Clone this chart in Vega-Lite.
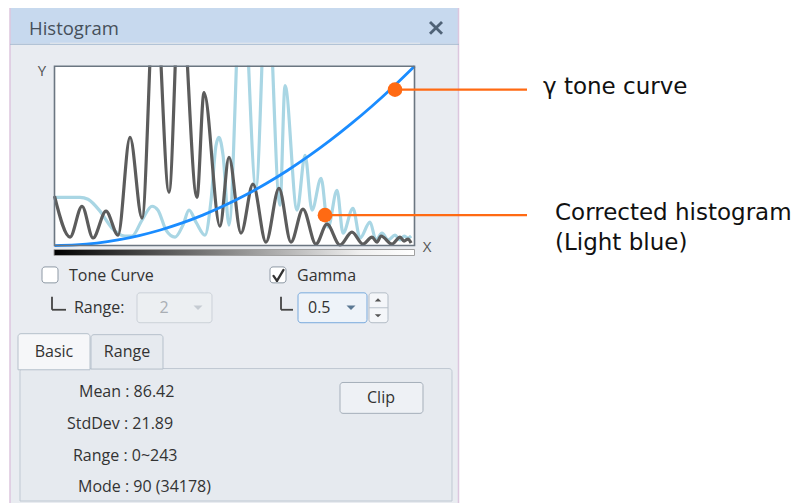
{
  "$schema": "https://vega.github.io/schema/vega-lite/v6.json",
  "width": 800,
  "height": 504,
  "autosize": {"type": "fit", "contains": "padding"},
  "padding": 0,
  "background": "#ffffff",
  "config": {"view": {"stroke": null}},
  "resolve": {"scale": {"fill": "independent", "stroke": "independent", "color": "independent", "shape": "independent"}},
  "layer": [
    {
      "data": {"values": [
        {"x": -31.52, "x2": 286.52, "y": 132.5, "y2": -143.61, "kind": "body"},
        {"x": 0, "x2": 255, "y": 100, "y2": 0, "kind": "plot"}
      ]},
      "mark": {"type": "rect", "strokeWidth": 0},
      "encoding": {
        "x": {"field": "x", "type": "quantitative", "scale": {"domain": [-38.6042, 528.0625], "nice": false, "zero": false}, "axis": null},
        "x2": {"field": "x2"},
        "y": {"field": "y", "type": "quantitative", "scale": {"domain": [-143.6111, 136.3889], "nice": false, "zero": false}, "axis": null},
        "y2": {"field": "y2"},
        "fill": {"field": "kind", "type": "nominal", "scale": {"domain": ["body", "plot"], "range": ["#e9ecf1", "#ffffff"]}, "legend": null}
      }
    },
    {
      "data": {"values": [
        {"intensity": 0, "freq": 26.9}, {"intensity": 18.1, "freq": 26.9}, {"intensity": 23.7, "freq": 25.8}, {"intensity": 32.2, "freq": 19.2},
        {"intensity": 40.7, "freq": 9.7}, {"intensity": 49.9, "freq": 5.3}, {"intensity": 54.9, "freq": 5.3}, {"intensity": 62.0, "freq": 14.2},
        {"intensity": 69.1, "freq": 21.9}, {"intensity": 73.3, "freq": 19.7}, {"intensity": 79.0, "freq": 8.6}, {"intensity": 85.4, "freq": 4.7},
        {"intensity": 91.0, "freq": 11.4}, {"intensity": 95.3, "freq": 19.7}, {"intensity": 100.2, "freq": 13.1}, {"intensity": 106.6, "freq": 5.8},
        {"intensity": 110.9, "freq": 25.3}, {"intensity": 114.4, "freq": 55.8}, {"intensity": 116.5, "freq": 60.3}, {"intensity": 119.4, "freq": 50.3},
        {"intensity": 123.6, "freq": 11.4}, {"intensity": 132.8, "freq": 158.6}, {"intensity": 142.7, "freq": 32.5}, {"intensity": 150.5, "freq": 153.1},
        {"intensity": 159.7, "freq": 22.5}, {"intensity": 163.3, "freq": 89.2}, {"intensity": 171.8, "freq": 19.7}, {"intensity": 177.5, "freq": 50.3},
        {"intensity": 182.4, "freq": 19.7}, {"intensity": 188.8, "freq": 37.5}, {"intensity": 193.8, "freq": 10.3}, {"intensity": 200.1, "freq": 30.8},
        {"intensity": 204.4, "freq": 6.9}, {"intensity": 211.4, "freq": 20.8}, {"intensity": 216.4, "freq": 4.2}, {"intensity": 223.5, "freq": 13.1},
        {"intensity": 227.7, "freq": 3.1}, {"intensity": 232.0, "freq": 6.9}, {"intensity": 236.3, "freq": 3.1}, {"intensity": 241.2, "freq": 5.8},
        {"intensity": 244.8, "freq": 3.1}, {"intensity": 247.6, "freq": 5.3}, {"intensity": 250.4, "freq": 4.2}, {"intensity": 252.6, "freq": 5.3}
      ]},
      "mark": {"type": "line", "color": "#a9d6e4", "strokeWidth": 3.2, "interpolate": "monotone", "clip": true},
      "encoding": {
        "x": {"field": "intensity", "type": "quantitative", "scale": {"domain": [-38.6042, 528.0625], "nice": false, "zero": false}, "axis": null},
        "y": {"field": "freq", "type": "quantitative", "scale": {"domain": [-143.6111, 136.3889], "nice": false, "zero": false}, "axis": null}
      }
    },
    {
      "data": {"values": [
        {"intensity": 0, "freq": 27.5}, {"intensity": 11.0, "freq": 4.7}, {"intensity": 19.5, "freq": 21.9}, {"intensity": 27.3, "freq": 4.2},
        {"intensity": 36.5, "freq": 19.2}, {"intensity": 45.0, "freq": 5.8}, {"intensity": 53.5, "freq": 60.3}, {"intensity": 62.0, "freq": 15.3},
        {"intensity": 71.2, "freq": 147.5}, {"intensity": 81.1, "freq": 29.7}, {"intensity": 89.0, "freq": 150}, {"intensity": 100.9, "freq": 26.9},
        {"intensity": 105.9, "freq": 85.3}, {"intensity": 117.2, "freq": 10.8}, {"intensity": 123.6, "freq": 49.2}, {"intensity": 132.1, "freq": 6.9},
        {"intensity": 140.6, "freq": 34.2}, {"intensity": 149.8, "freq": 1.9}, {"intensity": 159.0, "freq": 31.9}, {"intensity": 167.5, "freq": 1.9},
        {"intensity": 176.0, "freq": 20.3}, {"intensity": 185.2, "freq": 0.8}, {"intensity": 193.0, "freq": 11.9}, {"intensity": 202.2, "freq": 0.3},
        {"intensity": 210.7, "freq": 7.5}, {"intensity": 218.5, "freq": 0.8}, {"intensity": 224.9, "freq": 4.7}, {"intensity": 228.4, "freq": 1.9},
        {"intensity": 231.3, "freq": 5.3}, {"intensity": 239.1, "freq": 0.8}, {"intensity": 244.8, "freq": 4.7}, {"intensity": 247.6, "freq": 2.5},
        {"intensity": 250.4, "freq": 3.6}, {"intensity": 252.6, "freq": 1.4}
      ]},
      "mark": {"type": "line", "color": "#5c5c5c", "strokeWidth": 3.2, "interpolate": "monotone", "clip": true},
      "encoding": {
        "x": {"field": "intensity", "type": "quantitative", "scale": {"domain": [-38.6042, 528.0625], "nice": false, "zero": false}, "axis": null},
        "y": {"field": "freq", "type": "quantitative", "scale": {"domain": [-143.6111, 136.3889], "nice": false, "zero": false}, "axis": null}
      }
    },
    {
      "data": {"values": [
        {"intensity": 0, "freq": 0}, {"intensity": 15, "freq": 0.35}, {"intensity": 30, "freq": 1.38}, {"intensity": 45, "freq": 3.11},
        {"intensity": 60, "freq": 5.54}, {"intensity": 75, "freq": 8.65}, {"intensity": 90, "freq": 12.46}, {"intensity": 105, "freq": 16.96},
        {"intensity": 120, "freq": 22.15}, {"intensity": 135, "freq": 28.03}, {"intensity": 150, "freq": 34.60}, {"intensity": 165, "freq": 41.87},
        {"intensity": 180, "freq": 49.83}, {"intensity": 195, "freq": 58.48}, {"intensity": 210, "freq": 67.82}, {"intensity": 225, "freq": 77.85},
        {"intensity": 240, "freq": 88.58}, {"intensity": 255, "freq": 100}
      ]},
      "mark": {"type": "line", "color": "#1a8cff", "strokeWidth": 2.8, "interpolate": "monotone"},
      "encoding": {
        "x": {"field": "intensity", "type": "quantitative", "scale": {"domain": [-38.6042, 528.0625], "nice": false, "zero": false}, "axis": null},
        "y": {"field": "freq", "type": "quantitative", "scale": {"domain": [-143.6111, 136.3889], "nice": false, "zero": false}, "axis": null}
      }
    },
    {
      "data": {"values": [
        {"x": -31.52, "x2": 286.52, "y": 136.39, "y2": 132.5, "kind": "white"},
        {"x": -31.52, "x2": 286.52, "y": 132.5, "y2": 112.5, "kind": "title"},
        {"x": -3.19, "x2": 258.9, "y": 113.1, "y2": 100.39, "kind": "mask"}
      ]},
      "mark": {"type": "rect", "strokeWidth": 0},
      "encoding": {
        "x": {"field": "x", "type": "quantitative", "scale": {"domain": [-38.6042, 528.0625], "nice": false, "zero": false}, "axis": null},
        "x2": {"field": "x2"},
        "y": {"field": "y", "type": "quantitative", "scale": {"domain": [-143.6111, 136.3889], "nice": false, "zero": false}, "axis": null},
        "y2": {"field": "y2"},
        "fill": {"field": "kind", "type": "nominal", "scale": {"domain": ["white", "title", "mask"], "range": ["#ffffff", "#c7d9ee", "#e9ecf1"]}, "legend": null}
      }
    },
    {
      "data": {"values": [{"x": 0, "x2": 255, "y": 100, "y2": 0}]},
      "mark": {"type": "rect", "fill": null, "fillOpacity": 0, "stroke": "#6b7681", "strokeWidth": 1.6},
      "encoding": {
        "x": {"field": "x", "type": "quantitative", "scale": {"domain": [-38.6042, 528.0625], "nice": false, "zero": false}, "axis": null},
        "x2": {"field": "x2"},
        "y": {"field": "y", "type": "quantitative", "scale": {"domain": [-143.6111, 136.3889], "nice": false, "zero": false}, "axis": null},
        "y2": {"field": "y2"}
      }
    },
    {
      "data": {"values": [
        {"x": -24.44, "x2": 281.56, "y": -68.61, "y2": -142.5, "kind": "content"},
        {"x": 25.85, "x2": 76.85, "y": -49.72, "y2": -68.9, "kind": "tab2"},
        {"x": -25.85, "x2": 25.15, "y": -49.17, "y2": -69.3, "kind": "tab1"}
      ]},
      "mark": {"type": "rect", "strokeWidth": 1, "cornerRadiusTopLeft": 3, "cornerRadiusTopRight": 3},
      "encoding": {
        "x": {"field": "x", "type": "quantitative", "scale": {"domain": [-38.6042, 528.0625], "nice": false, "zero": false}, "axis": null},
        "x2": {"field": "x2"},
        "y": {"field": "y", "type": "quantitative", "scale": {"domain": [-143.6111, 136.3889], "nice": false, "zero": false}, "axis": null},
        "y2": {"field": "y2"},
        "fill": {"field": "kind", "type": "nominal", "scale": {"domain": ["content", "tab2", "tab1"], "range": ["#e6eaef", "#e6eaef", "#f6f7f9"]}, "legend": null},
        "stroke": {"field": "kind", "type": "nominal", "scale": {"domain": ["content", "tab2", "tab1"], "range": ["#bfc8d2", "#b6c0cb", "#b6c0cb"]}, "legend": null}
      }
    },
    {
      "data": {"values": [
        {"x": -8.85, "x2": 2.48, "y": -11.94, "y2": -20.83, "kind": "check"},
        {"x": 152.65, "x2": 163.98, "y": -11.94, "y2": -20.83, "kind": "check"},
        {"x": 58.44, "x2": 111.56, "y": -26.39, "y2": -43.06, "kind": "dd_off"},
        {"x": 172.48, "x2": 221.35, "y": -26.39, "y2": -43.06, "kind": "dd_on"},
        {"x": 222.77, "x2": 236.23, "y": -26.39, "y2": -43.06, "kind": "spin"},
        {"x": 202.23, "x2": 261.02, "y": -76.39, "y2": -93.61, "kind": "btn"}
      ]},
      "mark": {"type": "rect", "cornerRadius": 3, "strokeWidth": 1},
      "encoding": {
        "x": {"field": "x", "type": "quantitative", "scale": {"domain": [-38.6042, 528.0625], "nice": false, "zero": false}, "axis": null},
        "x2": {"field": "x2"},
        "y": {"field": "y", "type": "quantitative", "scale": {"domain": [-143.6111, 136.3889], "nice": false, "zero": false}, "axis": null},
        "y2": {"field": "y2"},
        "fill": {"field": "kind", "type": "nominal", "scale": {"domain": ["check", "dd_off", "dd_on", "spin", "btn"], "range": ["#ffffff", "#eceff2", "#eef3f9", "#f4f6f9", "#eef1f5"]}, "legend": null},
        "stroke": {"field": "kind", "type": "nominal", "scale": {"domain": ["check", "dd_off", "dd_on", "spin", "btn"], "range": ["#8e99a5", "#cbd1d8", "#79aadd", "#b3bcc6", "#a5afba"]}, "legend": null}
      }
    },
    {
      "data": {"values": [{"x": -0.35, "x2": 255, "y": -2.22, "y2": -5.56}]},
      "mark": {"type": "rect", "stroke": "#a0a0a0", "strokeWidth": 1, "fill": {"gradient": "linear", "x1": 0, "y1": 0, "x2": 1, "y2": 0, "stops": [{"offset": 0, "color": "#000000"}, {"offset": 0.85, "color": "#f0f0f0"}, {"offset": 1, "color": "#ffffff"}]}},
      "encoding": {
        "x": {"field": "x", "type": "quantitative", "scale": {"domain": [-38.6042, 528.0625], "nice": false, "zero": false}, "axis": null},
        "x2": {"field": "x2"},
        "y": {"field": "y", "type": "quantitative", "scale": {"domain": [-143.6111, 136.3889], "nice": false, "zero": false}, "axis": null},
        "y2": {"field": "y2"}
      }
    },
    {
      "data": {"values": [
        {"x": -31.52, "x2": -31.52, "y": 132.5, "y2": -143.61},
        {"x": 286.17, "x2": 286.17, "y": 132.5, "y2": -143.61}
      ]},
      "mark": {"type": "rule", "color": "#dcc6de", "strokeWidth": 1.5},
      "encoding": {
        "x": {"field": "x", "type": "quantitative", "scale": {"domain": [-38.6042, 528.0625], "nice": false, "zero": false}, "axis": null},
        "x2": {"field": "x2"},
        "y": {"field": "y", "type": "quantitative", "scale": {"domain": [-143.6111, 136.3889], "nice": false, "zero": false}, "axis": null},
        "y2": {"field": "y2"}
      }
    },
    {
      "data": {"values": [
        {"x": -31.52, "x2": 286.52, "y": 112.22, "y2": 112.22, "kind": "tline"},
        {"x": 222.77, "x2": 236.23, "y": -34.72, "y2": -34.72, "kind": "div"}
      ]},
      "mark": {"type": "rule", "strokeWidth": 1},
      "encoding": {
        "x": {"field": "x", "type": "quantitative", "scale": {"domain": [-38.6042, 528.0625], "nice": false, "zero": false}, "axis": null},
        "x2": {"field": "x2"},
        "y": {"field": "y", "type": "quantitative", "scale": {"domain": [-143.6111, 136.3889], "nice": false, "zero": false}, "axis": null},
        "y2": {"field": "y2"},
        "color": {"field": "kind", "type": "nominal", "scale": {"domain": ["tline", "div"], "range": ["#a7bbd0", "#b9c1ca"]}, "legend": null}
      }
    },
    {
      "data": {"values": [
        {"x": -1.77, "x2": -1.77, "y": -28.61, "y2": -35.83},
        {"x": -1.77, "x2": 8.15, "y": -35.83, "y2": -35.83},
        {"x": 160.44, "x2": 160.44, "y": -28.61, "y2": -35.83},
        {"x": 160.44, "x2": 168.94, "y": -35.83, "y2": -35.83}
      ]},
      "mark": {"type": "rule", "color": "#444444", "strokeWidth": 1.8},
      "encoding": {
        "x": {"field": "x", "type": "quantitative", "scale": {"domain": [-38.6042, 528.0625], "nice": false, "zero": false}, "axis": null},
        "x2": {"field": "x2"},
        "y": {"field": "y", "type": "quantitative", "scale": {"domain": [-143.6111, 136.3889], "nice": false, "zero": false}, "axis": null},
        "y2": {"field": "y2"}
      }
    },
    {
      "data": {"values": [
        {"x": 155.13, "x2": 157.6, "y": -16.94, "y2": -19.72},
        {"x": 157.6, "x2": 162.21, "y": -19.72, "y2": -13.61}
      ]},
      "mark": {"type": "rule", "color": "#333333", "strokeWidth": 2.3, "strokeCap": "round"},
      "encoding": {
        "x": {"field": "x", "type": "quantitative", "scale": {"domain": [-38.6042, 528.0625], "nice": false, "zero": false}, "axis": null},
        "x2": {"field": "x2"},
        "y": {"field": "y", "type": "quantitative", "scale": {"domain": [-143.6111, 136.3889], "nice": false, "zero": false}, "axis": null},
        "y2": {"field": "y2"}
      }
    },
    {
      "data": {"values": [
        {"x": 265.98, "x2": 274.48, "y": 124.72, "y2": 118.06},
        {"x": 265.98, "x2": 274.48, "y": 118.06, "y2": 124.72}
      ]},
      "mark": {"type": "rule", "color": "#4f6276", "strokeWidth": 2.8},
      "encoding": {
        "x": {"field": "x", "type": "quantitative", "scale": {"domain": [-38.6042, 528.0625], "nice": false, "zero": false}, "axis": null},
        "x2": {"field": "x2"},
        "y": {"field": "y", "type": "quantitative", "scale": {"domain": [-143.6111, 136.3889], "nice": false, "zero": false}, "axis": null},
        "y2": {"field": "y2"}
      }
    },
    {
      "data": {"values": [
        {"x": 241.19, "x2": 334.69, "y": 86.94, "y2": 86.94},
        {"x": 191.6, "x2": 334.69, "y": 16.94, "y2": 16.94}
      ]},
      "mark": {"type": "rule", "color": "#ff6a13", "strokeWidth": 2.2},
      "encoding": {
        "x": {"field": "x", "type": "quantitative", "scale": {"domain": [-38.6042, 528.0625], "nice": false, "zero": false}, "axis": null},
        "x2": {"field": "x2"},
        "y": {"field": "y", "type": "quantitative", "scale": {"domain": [-143.6111, 136.3889], "nice": false, "zero": false}, "axis": null},
        "y2": {"field": "y2"}
      }
    },
    {
      "data": {"values": [{"x": 241.19, "y": 86.94}, {"x": 191.6, "y": 16.94}]},
      "mark": {"type": "point", "filled": true, "shape": "circle", "size": 215, "color": "#ff6a13", "opacity": 1},
      "encoding": {
        "x": {"field": "x", "type": "quantitative", "scale": {"domain": [-38.6042, 528.0625], "nice": false, "zero": false}, "axis": null},
        "y": {"field": "y", "type": "quantitative", "scale": {"domain": [-143.6111, 136.3889], "nice": false, "zero": false}, "axis": null}
      }
    },
    {
      "data": {"values": [{"x": 101.65, "y": -34.72, "kind": "off"}, {"x": 210.02, "y": -34.72, "kind": "on"}]},
      "mark": {"type": "point", "filled": true, "size": 81, "opacity": 1, "shape": "M-1,-0.5L1,-0.5L0,0.5Z"},
      "encoding": {
        "x": {"field": "x", "type": "quantitative", "scale": {"domain": [-38.6042, 528.0625], "nice": false, "zero": false}, "axis": null},
        "y": {"field": "y", "type": "quantitative", "scale": {"domain": [-143.6111, 136.3889], "nice": false, "zero": false}, "axis": null},
        "color": {"field": "kind", "type": "nominal", "scale": {"domain": ["off", "on"], "range": ["#c5cbd2", "#5a7893"]}, "legend": null}
      }
    },
    {
      "data": {"values": [{"x": 229.15, "y": -30.28, "kind": "up"}, {"x": 229.15, "y": -39.17, "kind": "down"}]},
      "mark": {"type": "point", "filled": true, "size": 42, "opacity": 1, "color": "#555555"},
      "encoding": {
        "x": {"field": "x", "type": "quantitative", "scale": {"domain": [-38.6042, 528.0625], "nice": false, "zero": false}, "axis": null},
        "y": {"field": "y", "type": "quantitative", "scale": {"domain": [-143.6111, 136.3889], "nice": false, "zero": false}, "axis": null},
        "shape": {"field": "kind", "type": "nominal", "scale": {"domain": ["up", "down"], "range": ["M-1,0.5L1,0.5L0,-0.5Z", "M-1,-0.5L1,-0.5L0,0.5Z"]}, "legend": null}
      }
    },
    {
      "data": {"values": [
        {"x": 10.27, "y": -16.94, "label": "Tone Curve"},
        {"x": 13.81, "y": -34.72, "label": "Range:"},
        {"x": 171.77, "y": -16.94, "label": "Gamma"},
        {"x": 179.56, "y": -34.72, "label": "0.5"},
        {"x": 17.35, "y": -81.94, "label": "Mean : 86.42"},
        {"x": 8.85, "y": -99.72, "label": "StdDev : 21.89"},
        {"x": 13.1, "y": -117.5, "label": "Range : 0~243"},
        {"x": 16.65, "y": -134.72, "label": "Mode : 90 (34178)"}
      ]},
      "mark": {"type": "text", "align": "left", "baseline": "middle", "font": "Open Sans", "fontSize": 16, "color": "#333333"},
      "encoding": {
        "x": {"field": "x", "type": "quantitative", "scale": {"domain": [-38.6042, 528.0625], "nice": false, "zero": false}, "axis": null},
        "y": {"field": "y", "type": "quantitative", "scale": {"domain": [-143.6111, 136.3889], "nice": false, "zero": false}, "axis": null},
        "text": {"field": "label"}
      }
    },
    {
      "data": {"values": [
        {"x": -0.35, "y": -59.17, "label": "Basic", "kind": "on"},
        {"x": 51.35, "y": -59.17, "label": "Range", "kind": "on"},
        {"x": 231.27, "y": -85.28, "label": "Clip", "kind": "on"},
        {"x": 77.56, "y": -34.72, "label": "2", "kind": "off"}
      ]},
      "mark": {"type": "text", "align": "center", "baseline": "middle", "font": "Open Sans", "fontSize": 16},
      "encoding": {
        "x": {"field": "x", "type": "quantitative", "scale": {"domain": [-38.6042, 528.0625], "nice": false, "zero": false}, "axis": null},
        "y": {"field": "y", "type": "quantitative", "scale": {"domain": [-143.6111, 136.3889], "nice": false, "zero": false}, "axis": null},
        "text": {"field": "label"},
        "color": {"field": "kind", "type": "nominal", "scale": {"domain": ["on", "off"], "range": ["#333333", "#a9aeb4"]}, "legend": null}
      }
    },
    {
      "data": {"values": [{"x": -18.06, "y": 120.83, "label": "Histogram"}]},
      "mark": {"type": "text", "align": "left", "baseline": "middle", "font": "Open Sans", "fontSize": 18.5, "color": "#46505a"},
      "encoding": {
        "x": {"field": "x", "type": "quantitative", "scale": {"domain": [-38.6042, 528.0625], "nice": false, "zero": false}, "axis": null},
        "y": {"field": "y", "type": "quantitative", "scale": {"domain": [-143.6111, 136.3889], "nice": false, "zero": false}, "axis": null},
        "text": {"field": "label"}
      }
    },
    {
      "data": {"values": [{"x": -8.85, "y": 97.5, "label": "Y"}, {"x": 263.85, "y": -0.83, "label": "X"}]},
      "mark": {"type": "text", "align": "center", "baseline": "middle", "font": "Open Sans", "fontSize": 15, "color": "#555555"},
      "encoding": {
        "x": {"field": "x", "type": "quantitative", "scale": {"domain": [-38.6042, 528.0625], "nice": false, "zero": false}, "axis": null},
        "y": {"field": "y", "type": "quantitative", "scale": {"domain": [-143.6111, 136.3889], "nice": false, "zero": false}, "axis": null},
        "text": {"field": "label"}
      }
    },
    {
      "data": {"values": [
        {"x": 346.02, "y": 88.61, "label": "γ tone curve"},
        {"x": 354.52, "y": 18.06, "label": "Corrected histogram"},
        {"x": 354.52, "y": 1.39, "label": "(Light blue)"}
      ]},
      "mark": {"type": "text", "align": "left", "baseline": "middle", "font": "DejaVu Sans", "fontSize": 23, "color": "#111111"},
      "encoding": {
        "x": {"field": "x", "type": "quantitative", "scale": {"domain": [-38.6042, 528.0625], "nice": false, "zero": false}, "axis": null},
        "y": {"field": "y", "type": "quantitative", "scale": {"domain": [-143.6111, 136.3889], "nice": false, "zero": false}, "axis": null},
        "text": {"field": "label"}
      }
    }
  ]
}
